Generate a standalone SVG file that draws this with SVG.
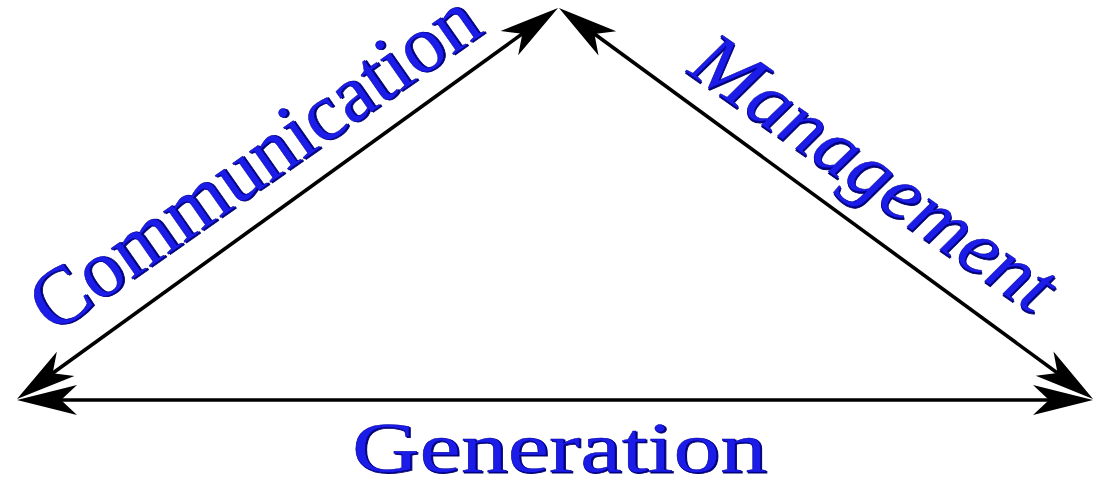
<svg xmlns="http://www.w3.org/2000/svg" width="1095" height="480" viewBox="0 0 1095 480">
<defs>
<marker id="ah" markerUnits="userSpaceOnUse" markerWidth="80" markerHeight="40" refX="-20" refY="0" orient="auto-start-reverse" overflow="visible">
<path d="M0,0 L-60,-15 L-44,0 L-60,15 Z" fill="#000"/>
</marker>
</defs>
<style>
.edge{stroke:#000;fill:none}
.lbl{fill:#1c1ce8;stroke:#0000a0;stroke-width:0.5}
.sh{fill:#000070;stroke:#000070;stroke-width:0.8}
</style>
<rect width="1095" height="480" fill="#fff"/>
<g id="connectors">
<line class="edge" stroke-width="3.6" marker-start="url(#ah)" marker-end="url(#ah)" x1="33.2" y1="387.3" x2="541.8" y2="19.7"/>
<line class="edge" stroke-width="3.6" marker-start="url(#ah)" marker-end="url(#ah)" x1="575.1" y1="19.8" x2="1076.9" y2="387.2"/>
<line class="edge" stroke-width="3.6" marker-start="url(#ah)" marker-end="url(#ah)" x1="37" y1="400" x2="1073" y2="400"/>
</g>
<g id="communication">
<text class="sh" font-family="Liberation Serif" transform="translate(53,335) rotate(-35)" font-size="82" textLength="528" lengthAdjust="spacingAndGlyphs" x="1.3" y="1.3">Communication</text>
<text class="lbl" font-family="Liberation Serif" transform="translate(53,335) rotate(-35)" font-size="82" textLength="528" lengthAdjust="spacingAndGlyphs">Communication</text>
</g>
<g id="management">
<text class="sh" font-family="Liberation Serif" transform="translate(686,72) rotate(35)" font-size="78" font-style="italic" textLength="425" lengthAdjust="spacingAndGlyphs" x="1.3" y="1.3">Management</text>
<text class="lbl" font-family="Liberation Serif" transform="translate(686,72) rotate(35)" font-size="78" font-style="italic" textLength="425" lengthAdjust="spacingAndGlyphs">Management</text>
</g>
<g id="generation">
<text class="sh" font-family="Liberation Serif" x="353.3" y="473.3" font-size="72" textLength="415" lengthAdjust="spacingAndGlyphs">Generation</text>
<text class="lbl" font-family="Liberation Serif" x="352" y="472" font-size="72" textLength="415" lengthAdjust="spacingAndGlyphs">Generation</text>
</g>
</svg>
